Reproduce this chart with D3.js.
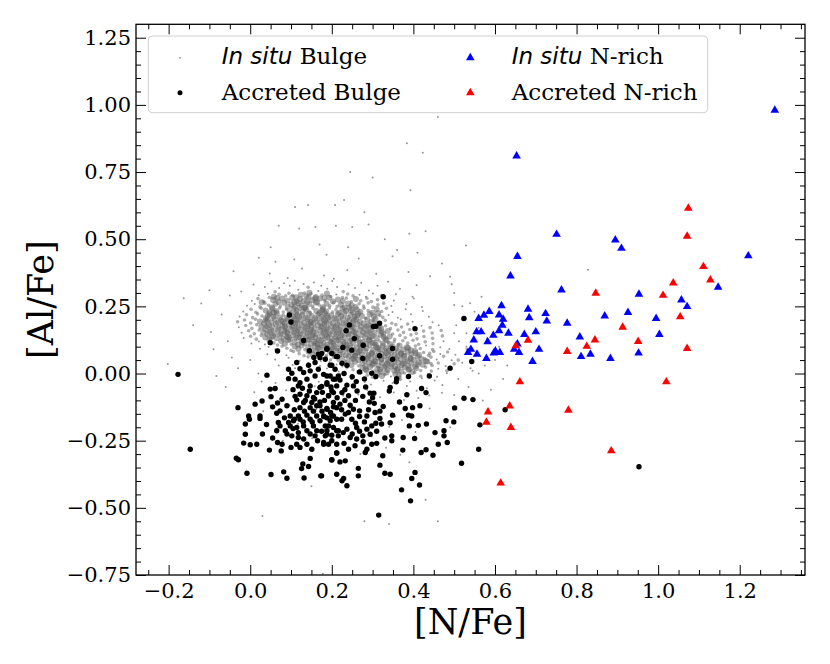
<!DOCTYPE html>
<html>
<head>
<meta charset="utf-8">
<script src="https://cdn.jsdelivr.net/npm/d3@7"></script>
<style>
  body { margin: 0; background: #fff; }
  text { fill: #000; }
</style>
</head>
<body>
<svg id="chart" width="830" height="664"></svg>
<script>
// values: [ [N/Fe], [Al/Fe] ]

// in situ bulge (grey cloud)
var inSituBulge = [
  [.021,.431],[.108,.424],[.187,.442],[.266,.428],[.349,.437],[.062,.416],
  [-.041,.381],[.048,.372],[.127,.391],[.181,.365],[.238,.384],[.309,.371],[.388,.378],[.441,.362],[.092,.356],[.205,.353],
  [-.022,.305],[.008,.331],[.036,.322],[.052,.343],[.071,.318],[.083,.336],[.097,.327],[.109,.345],[.118,.312],[.131,.333],
  [.142,.321],[.156,.339],[.167,.307],[.174,.327],[.189,.316],[.201,.344],[.213,.322],[.228,.305],[.241,.331],[.257,.318],
  [.272,.338],[.291,.309],[.312,.327],[.338,.342],[.367,.316],[.408,.329],[.061,.304],[.145,.301],
  [.021,.291],[.043,.297],[.058,.286],[.071,.295],[.087,.289],[.095,.299],[.112,.284],[.124,.293],[.138,.288],[.149,.297],
  [.161,.285],[.176,.292],[.188,.298],[.197,.287],[.211,.294],[.226,.283],[.239,.296],[.252,.289],[.268,.293],[.284,.286],
  [.301,.298],[.322,.29],[.357,.295],[.398,.286],[.133,.3],[.182,.281],[.066,.281],[.104,.291],
  [.004,.271],[.019,.279],[.033,.268],[.047,.283],[.056,.274],[.069,.266],[.078,.279],[.091,.271],[.103,.282],[.114,.268],
  [.122,.277],[.131,.27],[.143,.283],[.152,.273],[.164,.266],[.171,.279],[.183,.271],[.194,.282],[.203,.268],[.215,.276],
  [.227,.27],[.236,.281],[.248,.267],[.259,.277],[.271,.271],[.286,.28],[.297,.268],[.312,.275],[.329,.283],[.352,.272],
  [.401,.279],[.108,.265],[.159,.28],
  [-.008,.252],[.011,.259],[.024,.248],[.036,.262],[.045,.254],[.053,.246],[.062,.26],[.074,.251],[.083,.263],[.092,.248],
  [.101,.257],[.109,.249],[.118,.262],[.126,.253],[.135,.246],[.144,.259],[.153,.25],[.161,.263],[.169,.255],[.178,.247],
  [.187,.26],[.195,.252],[.204,.264],[.213,.249],[.222,.257],[.231,.246],[.24,.261],[.249,.253],[.258,.248],[.267,.26],
  [.278,.251],[.289,.263],[.301,.247],[.313,.256],[.327,.262],[.346,.251],[.383,.259],[.421,.248],[.028,.265],[.139,.265],
  [-.017,.231],[.002,.239],[.014,.228],[.027,.243],[.038,.235],[.047,.226],[.055,.241],[.064,.232],[.072,.244],[.081,.229],
  [.089,.238],[.097,.227],[.106,.242],[.114,.234],[.121,.245],[.129,.23],[.137,.239],[.146,.228],[.154,.243],[.162,.233],
  [.17,.225],[.178,.24],[.186,.231],[.194,.244],[.202,.229],[.21,.237],[.218,.226],[.226,.242],[.235,.233],[.243,.245],
  [.252,.228],[.261,.238],[.27,.23],[.279,.243],[.289,.234],[.299,.226],[.31,.24],[.322,.231],[.334,.243],[.349,.229],
  [.381,.239],[.423,.233],[.058,.226],[.133,.244],[.247,.236],[.176,.235],
  [-.026,.212],[-.009,.219],[.006,.208],[.018,.222],[.029,.214],[.039,.206],[.048,.221],[.057,.211],[.065,.224],[.073,.209],
  [.081,.218],[.089,.207],[.097,.222],[.105,.213],[.112,.225],[.12,.21],[.128,.219],[.136,.208],[.144,.223],[.151,.214],
  [.159,.206],[.167,.22],[.175,.211],[.183,.224],[.191,.209],[.199,.217],[.207,.206],[.215,.222],[.223,.213],[.231,.225],
  [.239,.208],[.247,.218],[.256,.21],[.265,.223],[.274,.214],[.283,.206],[.293,.221],[.303,.212],[.313,.224],[.325,.209],
  [.339,.218],[.362,.208],[.394,.221],[.438,.211],[.043,.215],[.116,.217],[.188,.216],[.262,.216],[.318,.216],
  [-.031,.193],[-.014,.199],[.001,.188],[.013,.202],[.024,.194],[.034,.186],[.043,.201],[.052,.191],[.06,.204],[.068,.189],
  [.076,.198],[.084,.187],[.092,.202],[.1,.193],[.108,.205],[.116,.19],[.124,.199],[.132,.188],[.14,.203],[.147,.194],
  [.155,.186],[.163,.2],[.171,.191],[.179,.204],[.187,.189],[.195,.197],[.203,.186],[.211,.202],[.219,.193],[.227,.205],
  [.235,.188],[.243,.198],[.251,.19],[.26,.203],[.269,.194],[.278,.186],[.287,.201],[.297,.192],[.307,.204],[.318,.189],
  [.331,.198],[.347,.187],[.369,.202],[.398,.193],[.447,.191],[.038,.196],[.112,.197],[.183,.196],[.254,.197],[.302,.197],
  [.08,.193],[.15,.192],
  [-.028,.172],[-.011,.179],[.004,.168],[.016,.182],[.027,.174],[.037,.166],[.046,.181],[.055,.171],[.063,.184],[.071,.169],
  [.079,.178],[.087,.167],[.095,.182],[.103,.173],[.111,.185],[.119,.17],[.127,.179],[.135,.168],[.143,.183],[.15,.174],
  [.158,.166],[.166,.18],[.174,.171],[.182,.184],[.19,.169],[.198,.177],[.206,.166],[.214,.182],[.222,.173],[.23,.185],
  [.238,.168],[.246,.178],[.254,.17],[.263,.183],[.272,.174],[.281,.166],[.29,.181],[.3,.172],[.31,.184],[.321,.169],
  [.332,.178],[.344,.167],[.357,.182],[.371,.173],[.386,.184],[.402,.169],[.42,.178],[.441,.171],[.462,.18],[.041,.175],
  [.107,.176],[.177,.176],[.249,.175],[.316,.176],[.085,.174],[.14,.175],[.21,.174],[.286,.175],
  [-.021,.152],[-.004,.159],[.01,.148],[.022,.162],[.032,.154],[.042,.146],[.051,.161],[.06,.151],[.068,.164],[.076,.149],
  [.084,.158],[.092,.147],[.1,.162],[.108,.153],[.116,.165],[.124,.15],[.132,.159],[.14,.148],[.148,.163],[.155,.154],
  [.163,.146],[.171,.16],[.179,.151],[.187,.164],[.195,.149],[.203,.157],[.211,.146],[.219,.162],[.227,.153],[.235,.165],
  [.243,.148],[.251,.158],[.259,.15],[.268,.163],[.277,.154],[.286,.146],[.295,.161],[.305,.152],[.315,.164],[.326,.149],
  [.337,.158],[.349,.147],[.362,.162],[.376,.153],[.391,.164],[.407,.149],[.425,.158],[.446,.151],[.468,.16],[.047,.155],
  [.113,.156],[.183,.156],[.255,.155],[.322,.156],[.09,.154],[.146,.155],[.216,.154],[.291,.155],
  [-.016,.132],[.001,.139],[.015,.128],[.027,.142],[.037,.134],[.047,.126],[.056,.141],[.065,.131],[.073,.144],[.081,.129],
  [.089,.138],[.097,.127],[.105,.142],[.113,.133],[.121,.145],[.129,.13],[.137,.139],[.145,.128],[.153,.143],[.16,.134],
  [.168,.126],[.176,.14],[.184,.131],[.192,.144],[.2,.129],[.208,.137],[.216,.126],[.224,.142],[.232,.133],[.24,.145],
  [.248,.128],[.256,.138],[.264,.13],[.273,.143],[.282,.134],[.291,.126],[.3,.141],[.31,.132],[.32,.144],[.331,.129],
  [.342,.138],[.354,.127],[.367,.142],[.38,.133],[.394,.144],[.409,.129],[.426,.138],[.447,.131],[.471,.14],[.052,.135],
  [.118,.136],[.188,.136],[.26,.135],[.327,.136],[.094,.134],[.151,.135],[.221,.134],[.296,.135],
  [.003,.112],[.021,.119],[.036,.108],[.048,.122],[.058,.114],[.067,.106],[.076,.121],[.085,.111],[.093,.124],[.101,.109],
  [.109,.118],[.117,.107],[.125,.122],[.133,.113],[.141,.125],[.149,.11],[.157,.119],[.165,.108],[.173,.123],[.18,.114],
  [.188,.106],[.196,.12],[.204,.111],[.212,.124],[.22,.109],[.228,.117],[.236,.106],[.244,.122],[.252,.113],[.26,.125],
  [.268,.108],[.276,.118],[.284,.11],[.292,.123],[.3,.114],[.308,.106],[.316,.121],[.325,.112],[.334,.124],[.343,.109],
  [.353,.118],[.363,.107],[.374,.122],[.386,.113],[.399,.124],[.413,.109],[.429,.118],[.448,.111],[.474,.12],[.128,.116],
  [.199,.116],[.27,.115],[.338,.116],[.161,.114],[.232,.114],[.305,.115],
  [.024,.092],[.045,.099],[.063,.088],[.078,.102],[.09,.094],[.1,.086],[.109,.101],[.118,.091],[.126,.104],[.134,.089],
  [.142,.098],[.15,.087],[.158,.102],[.166,.093],[.174,.105],[.182,.09],[.19,.099],[.198,.088],[.206,.103],[.213,.094],
  [.221,.086],[.229,.1],[.237,.091],[.245,.104],[.253,.089],[.261,.097],[.269,.086],[.277,.102],[.285,.093],[.293,.105],
  [.301,.088],[.309,.098],[.317,.09],[.325,.103],[.333,.094],[.341,.086],[.349,.101],[.357,.092],[.366,.104],[.375,.089],
  [.384,.098],[.394,.087],[.405,.102],[.417,.093],[.431,.104],[.447,.089],[.466,.098],[.488,.091],[.17,.096],[.241,.096],
  [.313,.096],[.2,.094],[.272,.095],[.345,.095],[.387,.095],
  [.042,.072],[.068,.079],[.089,.068],[.106,.082],[.12,.074],[.132,.066],[.143,.081],[.153,.071],[.162,.084],[.171,.069],
  [.179,.078],[.187,.067],[.195,.082],[.203,.073],[.211,.085],[.219,.07],[.227,.079],[.235,.068],[.243,.083],[.25,.074],
  [.258,.066],[.266,.08],[.274,.071],[.282,.084],[.29,.069],[.298,.077],[.306,.066],[.314,.082],[.322,.073],[.33,.085],
  [.338,.068],[.346,.078],[.354,.07],[.362,.083],[.37,.074],[.378,.066],[.386,.081],[.395,.072],[.404,.084],[.414,.069],
  [.425,.078],[.437,.067],[.45,.082],[.466,.073],[.484,.08],[.503,.07],[.262,.076],[.334,.076],[.405,.076],[.298,.074],
  [.37,.075],[.44,.075],
  [.061,.052],[.094,.059],[.121,.048],[.142,.062],[.159,.054],[.173,.046],[.186,.061],[.197,.051],[.207,.064],[.216,.049],
  [.225,.058],[.233,.047],[.241,.062],[.249,.053],[.257,.065],[.265,.05],[.273,.059],[.281,.048],[.289,.063],[.297,.054],
  [.305,.046],[.313,.06],[.321,.051],[.329,.064],[.337,.049],[.345,.057],[.353,.046],[.361,.062],[.369,.053],[.377,.065],
  [.385,.048],[.393,.058],[.401,.05],[.41,.063],[.42,.054],[.431,.046],[.443,.061],[.457,.052],[.474,.064],[.494,.049],
  [.285,.056],[.357,.056],[.428,.056],[.322,.055],[.393,.054],[.253,.055],
  [.104,.032],[.142,.039],[.171,.028],[.194,.042],[.212,.034],[.226,.026],[.238,.041],[.248,.031],[.257,.044],[.266,.029],
  [.275,.038],[.283,.027],[.291,.042],[.299,.033],[.307,.045],[.315,.03],[.323,.039],[.331,.028],[.339,.043],[.347,.034],
  [.355,.026],[.363,.04],[.371,.031],[.379,.044],[.387,.029],[.395,.037],[.404,.026],[.413,.042],[.423,.033],[.434,.045],
  [.446,.03],[.461,.039],[.479,.028],[.5,.036],[.302,.036],[.374,.036],[.443,.037],[.335,.035],[.41,.034],
  [.145,.012],[.188,.019],[.217,.008],[.237,.022],[.252,.014],[.264,.006],[.275,.021],[.285,.011],[.294,.024],[.303,.009],
  [.312,.018],[.32,.007],[.329,.022],[.337,.013],[.345,.025],[.353,.01],[.362,.019],[.37,.008],[.379,.023],[.388,.014],
  [.397,.006],[.407,.02],[.418,.011],[.43,.024],[.444,.009],[.461,.018],[.482,.01],[.318,.015],[.39,.016],[.283,.016],
  [.36,.014],
  [.176,-.008],[.221,-.002],[.251,-.012],[.272,.003],[.287,-.006],[.3,-.014],[.312,.001],[.323,-.009],[.334,.004],[.345,-.011],
  [.356,-.003],[.367,-.013],[.378,.002],[.39,-.007],[.403,.004],[.418,-.01],[.436,-.002],[.458,-.012],[.482,.001],[.33,-.004],
  [.364,-.005],
  [.203,-.028],[.248,-.021],[.281,-.032],[.305,-.019],[.327,-.027],[.349,-.035],[.368,-.022],[.392,-.03],[.421,-.018],[.452,-.026],
  [.158,-.047],[.233,-.052],[.296,-.041],[.341,-.058],[.384,-.046],[.433,-.055],[.471,-.043],
  [.062,-.035],[.088,-.062],[.115,-.041],[.142,-.067],[.168,-.031],[.195,-.058],[.228,-.083],[.256,-.097],[.287,-.061],[.318,-.088],
  [.352,-.071],[.377,-.099],[.408,-.064],[.439,-.082],[.096,-.118],[.133,-.146],[.162,-.133],[.208,-.162],[.244,-.128],[.279,-.177],
  [.313,-.149],[.341,-.198],[.372,-.173],[.405,-.218],[.117,-.187],[.152,-.241],[.226,-.262],[.298,-.234],[.333,-.276],[.368,-.302],
  [.064,-.205],[.032,-.14],[.01,-.07],[.028,-.03],
  [.122,-.085],[.265,-.078],[.412,-.091],[.47,-.072],[.05,-.12],[.189,-.14],[.355,-.16],[.44,-.13],[.49,-.2],[.08,-.25],
  [.27,-.3],[.39,-.33],[.15,-.42],[.03,-.53],[.28,-.55],[.34,-.56],[.43,-.47],[.46,-.55],[.178,-.745],
  [-.163,.28],[-.12,.261],[-.096,.155],[-.202,.035],[-.083,-.009],[-.07,.22],[-.05,.29],[-.055,.12],[-.045,.06],[-.03,.02],
  [.0,.05],[.02,.0],[.07,.03],[-.1,.31],[-.09,.09],[-.14,.18],[-.06,-.05],[.11,.02],
  [.384,.857],[.423,.822],[.245,.75],[.393,.682],[.23,.646],[.11,.62],[.142,.627],[.208,.627],[.28,.6],[.07,.55],
  [.12,.54],[.16,.545],[.21,.55],[.25,.545],[.29,.555],[.33,.5],[.39,.52],[.43,.53],[.41,.45],[.46,.955],
  [.3,.73],[.17,.48],[.24,.47],[.05,.47],[.36,.46],[.47,.41],[.5,.3],[.52,.25],[.49,.36],[.5,.15],
  [.53,.1],[.51,.05],[.52,.2],[.54,.02],[.529,.477],[.828,.386],[.494,.332],[.567,.286],[.539,.262],[.5,.255],
  [.505,.18],[.512,.12],[.53,.09],[.52,.04],[.545,.01],[.51,-.02],[.535,-.05],[.56,.0],[.575,.03],[.59,-.06],
  [.6,.05],[.62,-.02],[.57,-.1],[.5,-.08],[.53,.15],[.56,.17],[.58,.13],[.61,.1],[.63,.03],[.55,.23]
];

// accreted bulge (black dots)
var accretedBulge = [
  [.096,.218],[.1,.192],[.131,.123],[.049,.115],[.067,.084],[.188,.093],[.167,.072],[.171,.059],[.214,.063],[.159,.041],
  [.114,.041],[.143,.031],[.122,.018],[.094,.016],[.102,.001],[.131,.004],[.147,.01],[.167,.016],[.196,.031],[.208,.016],
  [.18,-.003],[.041,-.006],[.094,-.019],[.11,-.021],[.122,-.034],[.139,-.021],[.159,-.009],[.188,-.009],[.204,-.021],[.216,-.009],
  [.118,-.046],[.147,-.046],[.171,-.052],[.188,-.04],[.049,-.058],[.061,-.056],[.163,-.071],[.122,-.077],[.139,-.083],[.155,-.089],
  [.051,-.086],[.204,-.071],[.192,-.083],[.078,-.096],[.114,-.098],[.131,-.108],[.151,-.108],[.171,-.106],[.204,-.108],[.012,-.114],
  [.029,-.102],[.055,-.124],[.067,-.11],[-.03,-.127],[.073,-.139],[.065,-.148],[.122,-.127],[.147,-.127],[.163,-.12],[.188,-.133],
  [.212,-.127],[.098,-.158],[.118,-.158],[.139,-.155],[.163,-.158],[.181,-.16],[.2,-.158],[-.004,-.158],[.024,-.158],[-.002,-.17],
  [.024,-.167],[.069,-.182],[.094,-.182],[.106,-.176],[.122,-.17],[.147,-.17],[.171,-.176],[.196,-.176],[.212,-.17],[-.012,-.188],
  [.073,-.195],[.098,-.195],[.114,-.201],[.131,-.195],[.155,-.195],[.184,-.195],[.204,-.201],[.086,-.213],[.118,-.22],[.139,-.213],
  [.163,-.213],[.188,-.213],[.216,-.213],[.065,-.213],[-.012,-.226],[.102,-.232],[.118,-.238],[.131,-.244],[.159,-.232],[.184,-.232],
  [-.016,-.259],[.0,-.265],[.016,-.263],[.067,-.257],[.078,-.263],[.114,-.263],[.122,-.275],[.139,-.263],[.192,-.263],[.18,-.257],
  [.212,-.263],[.047,-.285],[.076,-.288],[.1,-.275],[.151,-.282],[.212,-.296],[-.034,-.315],[-.029,-.321],[.147,-.316],[.2,-.322],
  [.129,-.337],[.143,-.346],[.126,-.354],[-.008,-.371],[.051,-.376],[.082,-.366],[.09,-.39],[.132,-.389],[.173,-.381],[.212,-.375],
  [.326,.286],[.302,.175],[.308,.176],[.317,.187],[.243,.181],[.235,.159],[.404,.167],[.255,.13],[.277,.105],[.227,.097],
  [.249,.087],[.188,.09],[.349,.093],[.317,.066],[.349,.053],[.276,.056],[.211,.063],[.175,.075],[.184,.053],[.225,.038],
  [.2,.031],[.237,.031],[.268,.006],[.298,.001],[.308,-.011],[.359,-.019],[.358,-.031],[.388,-.011],[.439,-.009],[.196,-.009],
  [.208,-.021],[.22,-.024],[.188,-.034],[.212,-.046],[.237,-.043],[.253,-.046],[.175,-.048],[.2,-.065],[.225,-.071],[.241,-.083],
  [.192,-.083],[.343,-.052],[.384,-.079],[.42,-.056],[.431,-.071],[.294,-.073],[.303,-.073],[.341,-.065],[.292,-.106],[.304,-.111],
  [.326,-.123],[.366,-.106],[.38,-.13],[.398,-.127],[.416,-.12],[.171,-.12],[.188,-.13],[.204,-.124],[.22,-.114],[.245,-.118],
  [.253,-.133],[.268,-.139],[.18,-.158],[.204,-.158],[.233,-.151],[.249,-.17],[.268,-.16],[.286,-.158],[.306,-.145],[.318,-.167],
  [.322,-.188],[.308,-.185],[.349,-.155],[.343,-.183],[.388,-.155],[.396,-.158],[.39,-.195],[.412,-.193],[.432,-.188],[.48,-.176],
  [.192,-.195],[.212,-.213],[.237,-.207],[.261,-.201],[.286,-.207],[.188,-.226],[.216,-.232],[.245,-.238],[.261,-.244],[.276,-.232],
  [.294,-.226],[.347,-.232],[.347,-.25],[.375,-.238],[.403,-.242],[.453,-.22],[.475,-.213],[.475,-.232],[.461,-.263],[.483,-.257],
  [.18,-.263],[.277,-.254],[.298,-.263],[.257,-.269],[.241,-.282],[.212,-.296],[.2,-.321],[.22,-.329],[.233,-.325],[.286,-.282],
  [.282,-.294],[.325,-.306],[.374,-.285],[.419,-.294],[.431,-.284],[.448,-.304],[.318,-.341],[.265,-.353],[.265,-.381],[.229,-.391],
  [.225,-.399],[.33,-.371],[.343,-.375],[.404,-.368],[.396,-.391],[.415,-.415],[.175,-.381],[.237,-.418],[.371,-.433],[.393,-.474],
  [.315,-.527],
  [.105,-.06],[.128,-.055],[.145,-.065],[.177,-.07],[.198,-.05],[.232,-.06],[.262,-.065],[.283,-.05],[.11,-.085],[.135,-.1],
  [.158,-.095],[.182,-.1],[.213,-.09],[.232,-.1],[.258,-.1],[.276,-.085],[.3,-.09],[.09,-.12],[.108,-.135],[.133,-.14],
  [.155,-.14],[.176,-.14],[.197,-.145],[.224,-.135],[.241,-.145],[.29,-.135],[.318,-.14],[.084,-.165],[.108,-.17],[.13,-.18],
  [.152,-.18],[.188,-.165],[.224,-.17],[.258,-.185],[.28,-.18],[.298,-.195],[.09,-.225],[.105,-.205],[.147,-.225],[.175,-.215],
  [.2,-.23],[.228,-.22],[.25,-.225],[.268,-.215],[.31,-.215],[.33,-.24],[.165,-.25],[.2,-.25],[.23,-.26],[.31,-.26],
  [.055,-.24],[.04,-.19],[.03,-.225],[.25,-.012],[.23,.0],[.26,-.03],[.28,-.02],[.156,.06],[.145,.085],[.2,.075],
  [.524,.205],[.543,.045],[.49,.02],[.524,-.092],[.546,-.097],[.501,-.128],[.625,-.135],[.499,-.18],[.563,-.191],[.56,-.282],
  [.518,-.334],[-.177,-.003],[-.147,-.282],[.953,-.347]
];

// in situ N-rich (blue triangles)
var inSituNRich = [
  [.653,.81],[.751,.518],[.895,.497],[.91,.466],[.655,.436],[.638,.363],[.763,.311],[.616,.252],[.586,.231],[.573,.217],
  [.56,.205],[.61,.218],[.62,.202],[.618,.18],[.681,.239],[.684,.208],[.724,.223],[.727,.195],[.777,.187],[.869,.214],
  [.926,.227],[.555,.155],[.566,.155],[.61,.159],[.633,.15],[.596,.142],[.672,.145],[.7,.155],[.548,.125],[.582,.118],
  [.655,.11],[.808,.136],[.541,.09],[.534,.078],[.556,.072],[.601,.084],[.612,.078],[.597,.076],[.647,.09],[.659,.078],
  [.708,.09],[.579,.056],[.692,.045],[.834,.072],[.811,.063],[.883,.056],[1.221,.438],[1.147,.321],[.953,.295],[1.057,.274],
  [1.071,.249],[.995,.205],[1.003,.145],[.952,.076],[1.286,.98]
];

// accreted N-rich (red triangles)
var accretedNRich = [
  [.847,.299],[.913,.172],[.681,.124],[.651,.103],[.845,.125],[.825,.101],[.777,.082],[.661,-.031],[.636,-.121],[.583,-.143],
  [.579,-.181],[.639,-.201],[.78,-.137],[.885,-.288],[.614,-.408],[1.074,.615],[1.071,.511],[1.111,.398],[1.128,.348],[1.037,.337],
  [1.012,.291],[1.054,.211],[.951,.119],[1.071,.093],[1.02,-.031]
];

var xMajorTicks = [-0.2, 0.0, 0.2, 0.4, 0.6, 0.8, 1.0, 1.2];
var yMajorTicks = [-0.75, -0.5, -0.25, 0.0, 0.25, 0.5, 0.75, 1.0, 1.25];
var xLabel = "[N/Fe]";
var yLabel = "[Al/Fe]";

// ---- layout ----
const plotLeft = 136, plotRight = 805, plotTop = 24.3, plotBottom = 575;
const majorLen = 10, minorLen = 5;
const serif = "'DejaVu Serif', serif";

var svg = d3.select("#chart");

var x = d3.scaleLinear().domain([-0.28, 1.36]).range([plotLeft, plotRight]);
var y = d3.scaleLinear().domain([-0.75, 1.30]).range([plotBottom, plotTop]);

var xMinor = d3.range(-0.25, 1.36, 0.05).filter(v => xMajorTicks.every(t => Math.abs(t - v) > 1e-6));
var yMinor = d3.range(-0.70, 1.30, 0.05).filter(v => yMajorTicks.every(t => Math.abs(t - v) > 1e-6));

svg.append("clipPath").attr("id", "plot-area")
  .append("rect")
  .attr("x", plotLeft).attr("y", plotTop)
  .attr("width", plotRight - plotLeft).attr("height", plotBottom - plotTop);

var pts = svg.append("g").attr("clip-path", "url(#plot-area)");

// the grey stars are tiny in the original; where they crowd they merge into a
// solid cloud.  count neighbours in pixel space to choose dot size.
var greyPx = inSituBulge.map(d => [x(d[0]), y(d[1])]);
var crowd = greyPx.map(function (p) {
  var n = 0;
  for (var j = 0; j < greyPx.length; j++) {
    var dx = greyPx[j][0] - p[0], dy = greyPx[j][1] - p[1];
    if (dx * dx + dy * dy < 36) n++;
  }
  return n;
});

function greyR(i) { return crowd[i] > 5 ? 3.0 : crowd[i] > 2 ? 1.8 : 1.0; }

pts.append("g").selectAll("circle")
  .data(inSituBulge)
  .join("circle")
  .attr("cx", d => x(d[0]))
  .attr("cy", d => y(d[1]))
  .attr("r", (d, i) => greyR(i))
  .attr("fill", (d, i) => crowd[i] > 2 ? "#5e5e5e" : "#8a8a8a")
  .attr("fill-opacity", (d, i) => crowd[i] > 2 ? 0.5 : 0.9);

// accreted bulge
pts.append("g").selectAll("circle")
  .data(accretedBulge)
  .join("circle")
  .attr("cx", d => x(d[0]))
  .attr("cy", d => y(d[1]))
  .attr("r", 2.7)
  .attr("fill", "#000");

var tri = d3.symbol().type(d3.symbolTriangle).size(32);

pts.append("g").selectAll("path")
  .data(inSituNRich)
  .join("path")
  .attr("d", tri)
  .attr("transform", d => "translate(" + x(d[0]) + "," + y(d[1]) + ")")
  .attr("fill", "#0000ff");

pts.append("g").selectAll("path")
  .data(accretedNRich)
  .join("path")
  .attr("d", tri)
  .attr("transform", d => "translate(" + x(d[0]) + "," + y(d[1]) + ")")
  .attr("fill", "#ff0000");

// ---- axes (ticks pointing inward on all four sides) ----
function drawAxis(axis, tx, ty) {
  var g = svg.append("g")
    .attr("transform", "translate(" + tx + "," + ty + ")")
    .call(axis);
  g.select(".domain").remove();
  g.selectAll(".tick line").attr("stroke", "#000").attr("stroke-width", 1);
  g.selectAll(".tick text")
    .style("font-family", serif)
    .style("font-size", "21px")
    .attr("fill", "#000");
  return g;
}

var fmtX = d3.format(".1f"), fmtY = d3.format(".2f");

drawAxis(d3.axisBottom(x).tickValues(xMajorTicks).tickSize(-majorLen).tickPadding(8).tickFormat(fmtX), 0, plotBottom);
drawAxis(d3.axisBottom(x).tickValues(xMinor).tickSize(-minorLen).tickFormat(""), 0, plotBottom);
drawAxis(d3.axisTop(x).tickValues(xMajorTicks).tickSize(-majorLen).tickFormat(""), 0, plotTop);
drawAxis(d3.axisTop(x).tickValues(xMinor).tickSize(-minorLen).tickFormat(""), 0, plotTop);

drawAxis(d3.axisLeft(y).tickValues(yMajorTicks).tickSize(-majorLen).tickPadding(5).tickFormat(fmtY), plotLeft, 0);
drawAxis(d3.axisLeft(y).tickValues(yMinor).tickSize(-minorLen).tickFormat(""), plotLeft, 0);
drawAxis(d3.axisRight(y).tickValues(yMajorTicks).tickSize(-majorLen).tickFormat(""), plotRight, 0);
drawAxis(d3.axisRight(y).tickValues(yMinor).tickSize(-minorLen).tickFormat(""), plotRight, 0);

svg.append("rect")
  .attr("x", plotLeft).attr("y", plotTop)
  .attr("width", plotRight - plotLeft).attr("height", plotBottom - plotTop)
  .attr("fill", "none").attr("stroke", "#000").attr("stroke-width", 1.3);

svg.append("text")
  .attr("x", (plotLeft + plotRight) / 2).attr("y", 634)
  .attr("text-anchor", "middle")
  .style("font-family", serif).style("font-size", "35px")
  .text(xLabel);

svg.append("text")
  .attr("transform", "translate(53," + (plotTop + plotBottom) / 2 + ") rotate(-90)")
  .attr("text-anchor", "middle")
  .style("font-family", serif).style("font-size", "35px")
  .text(yLabel);

// ---- legend ----
var legend = svg.append("g");
legend.append("rect")
  .attr("x", 148.3).attr("y", 36).attr("width", 559.4).attr("height", 76.7)
  .attr("rx", 4)
  .attr("fill", "#fff").attr("fill-opacity", 0.8)
  .attr("stroke", "#d0d0d0");

var legendItems = [
  { italic: "In situ", rest: " Bulge", mx: 180, tx: 221.7, row: 0, mark: "grey" },
  { italic: "", rest: "Accreted Bulge", mx: 180, tx: 221.7, row: 1, mark: "black" },
  { italic: "In situ", rest: " N-rich", mx: 470.3, tx: 511.7, row: 0, mark: "blue" },
  { italic: "", rest: "Accreted N-rich", mx: 470.3, tx: 511.7, row: 1, mark: "red" }
];
var rowMarkY = [57.8, 92.7], rowTextY = [63.8, 99.8];

legendItems.forEach(function (it) {
  var my = rowMarkY[it.row];
  if (it.mark === "grey") {
    legend.append("circle").attr("cx", it.mx).attr("cy", my).attr("r", 0.9).attr("fill", "#8c8c8c");
  } else if (it.mark === "black") {
    legend.append("circle").attr("cx", it.mx).attr("cy", my).attr("r", 2.5).attr("fill", "#000");
  } else {
    legend.append("path").attr("d", tri)
      .attr("transform", "translate(" + it.mx + "," + my + ")")
      .attr("fill", it.mark === "blue" ? "#0000ff" : "#ff0000");
  }
  var t = legend.append("text")
    .attr("x", it.tx).attr("y", rowTextY[it.row])
    .style("font-family", serif).style("font-size", "23px");
  if (it.italic) {
    t.append("tspan").style("font-family", "'DejaVu Sans', sans-serif").style("font-style", "italic").text(it.italic);
  }
  t.append("tspan").text(it.rest);
});
</script>
</body>
</html>
